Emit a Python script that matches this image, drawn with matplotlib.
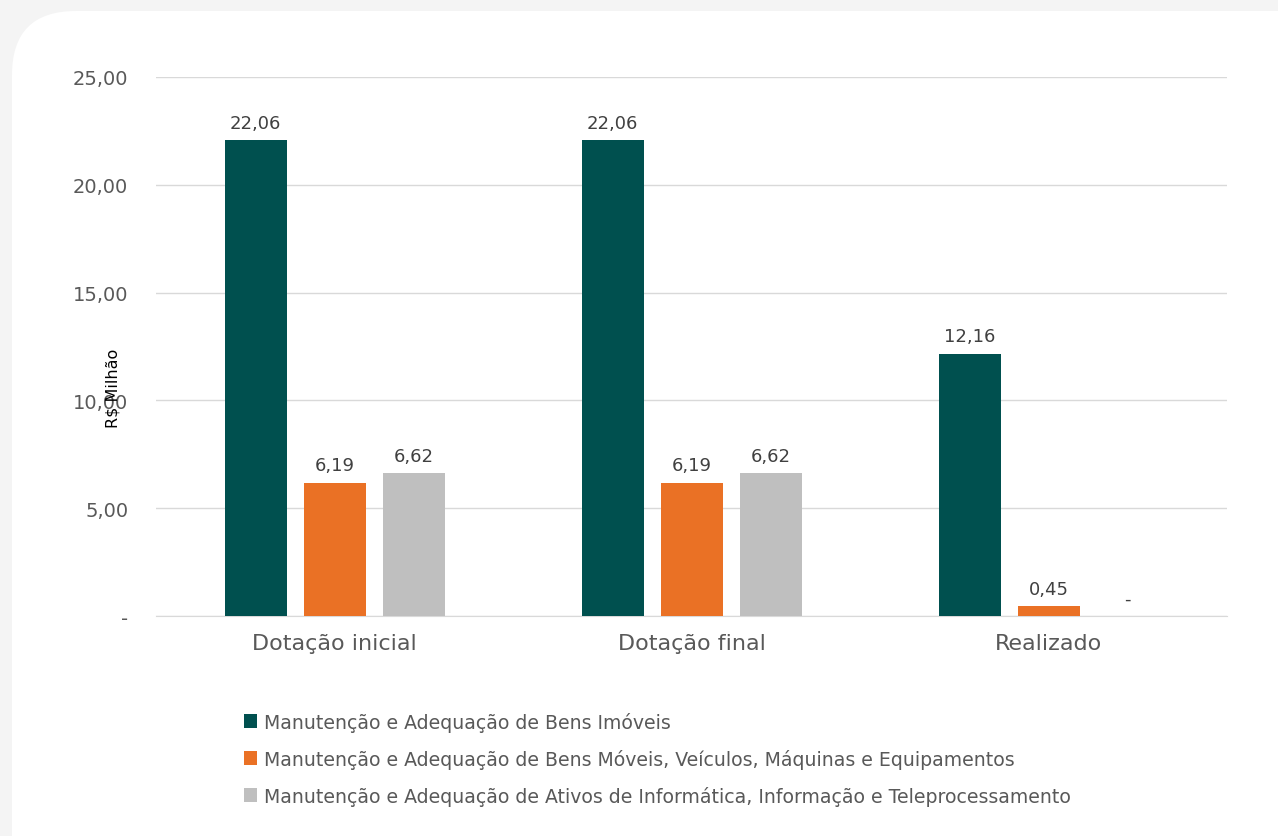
import numpy as np
import matplotlib.pyplot as plt
from matplotlib.patches import FancyBboxPatch, Patch

# ── Data ──────────────────────────────────────────────────────────────────────
categorias = ["Dotação inicial", "Dotação final", "Realizado"]
series = [
    "Manutenção e Adequação de Bens Imóveis",
    "Manutenção e Adequação de Bens Móveis, Veículos, Máquinas e Equipamentos",
    "Manutenção e Adequação de Ativos de Informática, Informação e Teleprocessamento",
]
imoveis = [22.06, 22.06, 12.16]
moveis = [6.19, 6.19, 0.45]
informatica = [6.62, 6.62, 0.0]
cores = ["#00504f", "#ea7125", "#bfbfbf"]
yticks = [0, 5, 10, 15, 20, 25]
ytick_labels = ["-", "5,00", "10,00", "15,00", "20,00", "25,00"]

txt = "#595959"
plt.rcParams['font.family'] = ['DejaVu Sans']

fig = plt.figure(figsize=(12.78, 8.37), dpi=100)
fig.patch.set_facecolor("#f4f4f4")

# white rounded card (behind everything)
card = FancyBboxPatch((12 / 1278, -0.1), 1.2, 1.1 - 12 / 837,
                      boxstyle="round,pad=0,rounding_size=0.05",
                      transform=fig.transFigure, facecolor="white",
                      edgecolor="none", zorder=-10, mutation_aspect=1278 / 837)
fig.patches.append(card)

ax = fig.add_axes([156 / 1278, 1 - 617 / 837, (1227 - 156) / 1278, (617 - 78) / 837])
ax.set_facecolor("none")
ax.set_zorder(1)

x = np.arange(len(categorias))
w = 62 / 357
step = 79 / 357
for i, (vals, cor) in enumerate(zip([imoveis, moveis, informatica], cores)):
    pos = x + (i - 1) * step
    ax.bar(pos, vals, width=w, color=cor, zorder=3)
    for p, v in zip(pos, vals):
        lab = "-" if v == 0 else f"{v:.2f}".replace(".", ",")
        ax.annotate(lab, (p, v), xytext=(0, 6), textcoords="offset points",
                    ha="center", va="bottom", fontsize=13, color="#404040")

ax.set_xlim(-0.5, 2.5)
ax.set_ylim(0, 25)
ax.set_yticks(yticks)
ax.set_yticklabels(ytick_labels, fontsize=14, color=txt)
ax.set_xticks(x)
ax.set_xticklabels(categorias, fontsize=16, color=txt)
ax.tick_params(axis="both", length=0)
ax.tick_params(axis="y", pad=20)
ax.tick_params(axis="x", pad=12)
ax.grid(axis="y", color="#d9d9d9", linewidth=1, zorder=0)
for s in ["top", "right", "left"]:
    ax.spines[s].set_visible(False)
ax.spines["bottom"].set_color("#d9d9d9")

fig.text(113 / 1278, 1 - 388 / 837, "R$ Milhão", rotation=90, ha="center",
         va="center", fontsize=11.5, color="black", zorder=5)

handles = [Patch(facecolor=c, edgecolor="none") for c in cores]
fig.legend(handles, series, loc="upper left",
           bbox_to_anchor=(236 / 1278, 1 - 705 / 837), frameon=False,
           fontsize=13.6, labelcolor=txt, handlelength=0.7, handleheight=0.7,
           handletextpad=0.4, labelspacing=0.9, borderaxespad=0)

fig.savefig("out.png", dpi=100, facecolor=fig.get_facecolor())
